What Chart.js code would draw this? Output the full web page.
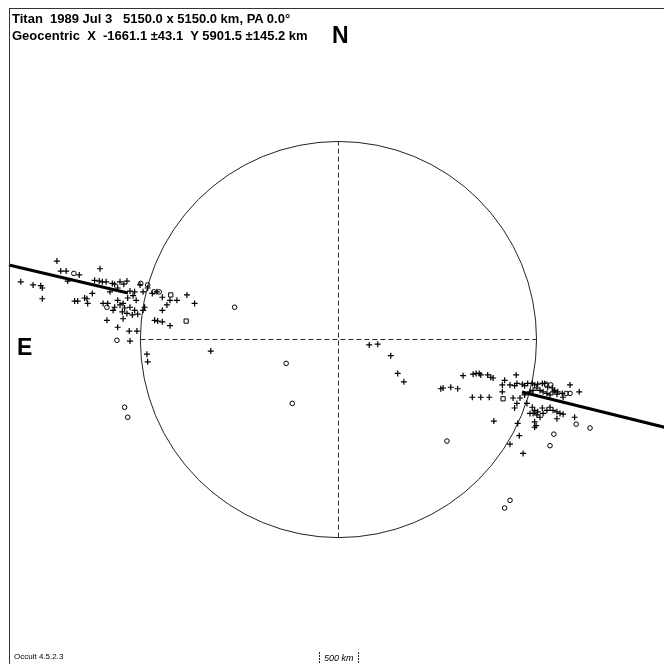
<!DOCTYPE html>
<html>
<head>
    <title>Titan 1989 Jul 3 occultation</title>
    <script src="https://cdn.jsdelivr.net/npm/chart.js"></script>
    <style>
        body { margin: 0; background: #fff; }
        .wrap { position: relative; width: 664px; height: 664px; overflow: hidden; }
        canvas { display: block; }
        .frame {
            position: absolute; left: 9px; top: 8px; width: 700px; height: 700px;
            border-left: 1px solid #333; border-top: 1px solid #333;
        }
        .lbl { position: absolute; font-family: "Liberation Sans", Arial, sans-serif; color: #000; white-space: pre; line-height: 1; }
        .head { font-size: 13px; font-weight: bold; left: 12px; }
        .dir { font-size: 23px; font-weight: bold; }
        .small { font-size: 8px; }
    </style>
</head>
<body>
<div class="wrap">
    <canvas id="occ" width="664" height="664"></canvas>
    <div class="frame"></div>
    <div class="lbl head" style="top:12px">Titan  1989 Jul 3   5150.0 x 5150.0 km, PA 0.0°</div>
    <div class="lbl head" style="top:29px">Geocentric  X  -1661.1 ±43.1  Y 5901.5 ±145.2 km</div>
    <div class="lbl dir" style="left:332px; top:24px">N</div>
    <div class="lbl dir" style="left:17px; top:336px">E</div>
    <div class="lbl small" style="left:14px; top:653px">Occult 4.5.2.3</div>
    <div class="lbl small" style="left:324px; top:654px; font-style:italic; font-size:9px">500 km</div>
</div>

<script>
    // Titan radius (km) and the 500 km scale bar
    const R = 2575;
    const scaleKm = 500;

    // chords "+" events (km, x to the right = west, y up = north)
    const plusX = [-3660,-3610,-3540,-3370,-3100,-4130,-3970,-3870,-3850,-3850,-3520,-3430,-3390,-3300,-3270,-3260,-3200,
        -3170,-3110,-3070,-3020,-2940,-2910,-2840,-2790,-2750,-2710,-2650,-2540,-2480,-2420,-2360,-2290,-2190,-2100,-1970,-1870,
        -3060,-3000,-2910,-2840,-2800,-2780,-2710,-2650,-2750,-2810,-2610,-2540,-2520,-3010,-2800,-2870,-2720,-2620,-2290,-2390,
        -2350,-2290,-2190,-2230,-2710,-2490,-2480,-1660,-2970,-2870,-2670,-2630,-2580,-2870,-2930,-2680,-2740,
        400,510,680,770,850,
        1620,1750,1790,1830,1850,1940,1980,2010,1330,1360,1460,1550,1740,1850,1960,2020,2130,2130,2160,2310,2230,2290,2320,
        2390,2420,2460,2520,2550,2590,2650,2680,2720,2780,2810,2850,2910,2920,2580,2620,2660,2710,2750,2790,2840,2530,2490,
        3010,3130,2270,2320,2290,2450,2520,2550,2590,2650,2710,2750,2790,2840,2880,2920,2580,2530,2490,2620,2660,2840,3070,
        2550,2550,2330,2350,2230,2400,2570,2360,2420];
    const plusY = [1020,890,890,840,920,750,710,700,670,530,760,500,500,540,530,470,600,
        770,760,750,750,730,720,750,720,760,630,620,620,670,600,620,550,510,510,580,470,
        470,470,420,450,470,410,420,380,340,360,330,380,420,250,270,160,110,110,380,250,
        240,230,180,450,-20,-190,-290,-150,620,670,570,510,710,510,380,320,540,
        -70,-60,-210,-440,-550,
        -470,-450,-440,-440,-460,-460,-490,-500,-640,-630,-620,-640,-750,-750,-750,-1060,-590,-680,-530,-460,-590,-600,-570,
        -580,-600,-570,-570,-590,-580,-570,-570,-620,-630,-660,-680,-700,-750,-630,-660,-680,-700,-720,-680,-710,-660,-680,
        -590,-680,-760,-830,-890,-830,-880,-920,-940,-890,-920,-880,-920,-940,-960,-970,-980,-960,-960,-1010,-960,-1030,-1010,
        -1140,-1070,-1090,-1250,-1360,-1480,-1120,-760,-720];

    // open circle events
    const circX = [-3440,-2570,-2480,-2400,-2330,-3010,-2880,-1350,-2780,-2740,-680,-600,
        2700,2760,2960,3010,3090,3270,2800,2750,1410,2230,2160];
    const circY = [860,730,710,620,620,420,-10,420,-880,-1010,-310,-830,
        -580,-590,-700,-700,-1100,-1150,-1230,-1380,-1320,-2090,-2190];

    // square events
    const sqX = [-2180,-1980,2140];
    const sqY = [580,240,-770];

    // thick path segments outside the limb
    const pathWX = [-4284,-2737];
    const pathWY = [969,605];
    const pathEX = [2386,4300];
    const pathEY = [-683,-1155];

    const xy = (xs, ys) => xs.map((x, i) => ({ x: x, y: ys[i] }));

    const limbPlugin = {
        id: 'limb',
        beforeDatasetsDraw(chart) {
            const c = chart.ctx, sx = chart.scales.x, sy = chart.scales.y;
            const cx = sx.getPixelForValue(0), cy = sy.getPixelForValue(0);
            const r = sx.getPixelForValue(R) - cx;
            c.save();
            c.strokeStyle = '#222';
            c.lineWidth = 1;
            c.beginPath();
            c.arc(cx, cy, r, 0, Math.PI * 2);
            c.stroke();
            // scale bar ticks
            c.setLineDash([2, 1]);
            [-scaleKm / 2, scaleKm / 2].forEach(v => {
                const px = Math.round(sx.getPixelForValue(v)) + 0.5;
                c.beginPath();
                c.moveTo(px, 652);
                c.lineTo(px, 663);
                c.stroke();
            });
            c.restore();
        }
    };

    const ctx = document.getElementById('occ').getContext('2d');
    new Chart(ctx, {
        type: 'scatter',
        data: {
            datasets: [
                { type: 'line', data: xy([-R, R], [0, 0]), borderColor: '#222', borderWidth: 1, borderDash: [5, 3], pointRadius: 0 },
                { type: 'line', data: xy([0, 0], [-R, R]), borderColor: '#222', borderWidth: 1, borderDash: [5, 3], pointRadius: 0 },
                { type: 'line', data: xy(pathWX, pathWY), borderColor: '#000', borderWidth: 3, pointRadius: 0 },
                { type: 'line', data: xy(pathEX, pathEY), borderColor: '#000', borderWidth: 3, pointRadius: 0 },
                { data: xy(plusX, plusY), pointStyle: 'cross', pointRadius: 3, borderColor: '#000', borderWidth: 1.2 },
                { data: xy(circX, circY), pointStyle: 'circle', pointRadius: 2.3, borderColor: '#000', borderWidth: 1, backgroundColor: 'rgba(0,0,0,0)' },
                { data: xy(sqX, sqY), pointStyle: 'rect', pointRadius: 3, borderColor: '#000', borderWidth: 1, backgroundColor: 'rgba(0,0,0,0)' }
            ]
        },
        options: {
            responsive: false,
            animation: false,
            layout: { padding: 0, autoPadding: false },
            scales: {
                x: { type: 'linear', display: false, min: -4400, max: 4232 },
                y: { type: 'linear', display: false, min: -4218, max: 4414 }
            },
            plugins: {
                legend: { display: false },
                tooltip: { enabled: false }
            }
        },
        plugins: [limbPlugin]
    });
</script>
</body>
</html>
